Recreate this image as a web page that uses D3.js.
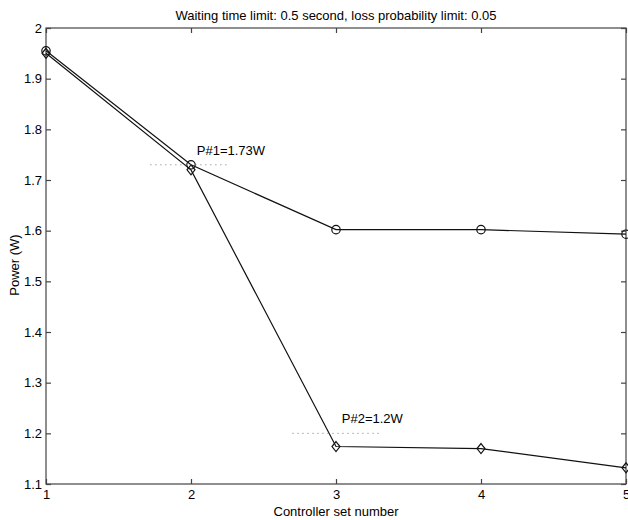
<html lang="en">
<head>
<meta charset="UTF-8">
<title>Power chart</title>
<script src="https://cdn.jsdelivr.net/npm/d3@7"></script>
<style>
body { margin: 0; background: #fff; }
text { font-family: "Liberation Sans", Arial, sans-serif; fill: #000; }
</style>
</head>
<body>
<script>
var controllerSets = [1, 2, 3, 4, 5];
var powerP1 = [1.955, 1.73, 1.602, 1.602, 1.593];
var powerP2 = [1.95, 1.72, 1.174, 1.17, 1.132];
var yTicks = [1.1, 1.2, 1.3, 1.4, 1.5, 1.6, 1.7, 1.8, 1.9, 2];
var notes = [
  {label: "P#1=1.73W", y: 1.73, x0: 1.72, x1: 2.26, tx: 2.04, ty: 1.749},
  {label: "P#2=1.2W", y: 1.2, x0: 2.70, x1: 3.31, tx: 3.04, ty: 1.221}
];

var W = 628, H = 520;
var pL = 46, pR = 626, pT = 28, pB = 484;

var svg = d3.select("body").append("svg")
  .attr("width", W).attr("height", H);

var x = d3.scaleLinear().domain([1, 5]).range([pL, pR]);
var y = d3.scaleLinear().domain([1.1, 2]).range([pB, pT]);

// box
svg.append("rect")
  .attr("x", pL).attr("y", pT)
  .attr("width", pR - pL).attr("height", pB - pT)
  .attr("fill", "none").attr("stroke", "#444").attr("stroke-width", 1.2);

// axes with inward ticks
var xb = svg.append("g").attr("transform", "translate(0," + pB + ")")
  .call(d3.axisBottom(x).tickValues(controllerSets).tickFormat(d3.format("d")).tickSizeInner(-5).tickSizeOuter(0).tickPadding(6));
var xt = svg.append("g").attr("transform", "translate(0," + pT + ")")
  .call(d3.axisTop(x).tickValues(controllerSets).tickFormat("").tickSizeInner(-5).tickSizeOuter(0));
var yl = svg.append("g").attr("transform", "translate(" + pL + ",0)")
  .call(d3.axisLeft(y).tickValues(yTicks).tickFormat(d3.format("")).tickSizeInner(-5).tickSizeOuter(0).tickPadding(4));
var yr = svg.append("g").attr("transform", "translate(" + pR + ",0)")
  .call(d3.axisRight(y).tickValues(yTicks).tickFormat("").tickSizeInner(-5).tickSizeOuter(0));

[xb, xt, yl, yr].forEach(function(g) {
  g.select(".domain").remove();
  g.selectAll("line").attr("stroke", "#444").attr("stroke-width", 1.2);
  g.selectAll("text").style("font-size", "13px").attr("fill", "#000");
});

// series lines
var line = d3.line()
  .x(function(d, i) { return x(controllerSets[i]); })
  .y(function(d) { return y(d); });

[powerP1, powerP2].forEach(function(s) {
  svg.append("path")
    .attr("d", line(s))
    .attr("fill", "none")
    .attr("stroke", "#111")
    .attr("stroke-width", 1.2);
});

// markers
svg.selectAll("circle.p1").data(powerP1).enter().append("circle")
  .attr("class", "p1")
  .attr("cx", function(d, i) { return x(controllerSets[i]); })
  .attr("cy", function(d) { return y(d); })
  .attr("r", 4.2)
  .attr("fill", "none").attr("stroke", "#111").attr("stroke-width", 1.2);

svg.selectAll("path.p2").data(powerP2).enter().append("path")
  .attr("class", "p2")
  .attr("d", "M0,-5L4,0L0,5L-4,0Z")
  .attr("transform", function(d, i) { return "translate(" + x(controllerSets[i]) + "," + y(d) + ")"; })
  .attr("fill", "none").attr("stroke", "#111").attr("stroke-width", 1.2);

// annotations
notes.forEach(function(n) {
  svg.append("line")
    .attr("x1", x(n.x0)).attr("x2", x(n.x1))
    .attr("y1", y(n.y)).attr("y2", y(n.y))
    .attr("stroke", "#777").attr("stroke-width", 1)
    .attr("stroke-dasharray", "1,4");
  svg.append("text")
    .attr("x", x(n.tx)).attr("y", y(n.ty))
    .style("font-size", "13px")
    .text(n.label);
});

// labels
svg.append("text")
  .attr("x", (pL + pR) / 2).attr("y", 20)
  .attr("text-anchor", "middle").style("font-size", "13px")
  .text("Waiting time limit: 0.5 second, loss probability limit: 0.05");

svg.append("text")
  .attr("x", (pL + pR) / 2).attr("y", 516)
  .attr("text-anchor", "middle").style("font-size", "13px")
  .text("Controller set number");

svg.append("text")
  .attr("transform", "translate(19,265) rotate(-90)")
  .attr("text-anchor", "middle").style("font-size", "13px")
  .text("Power (W)");
</script>
</body>
</html>
